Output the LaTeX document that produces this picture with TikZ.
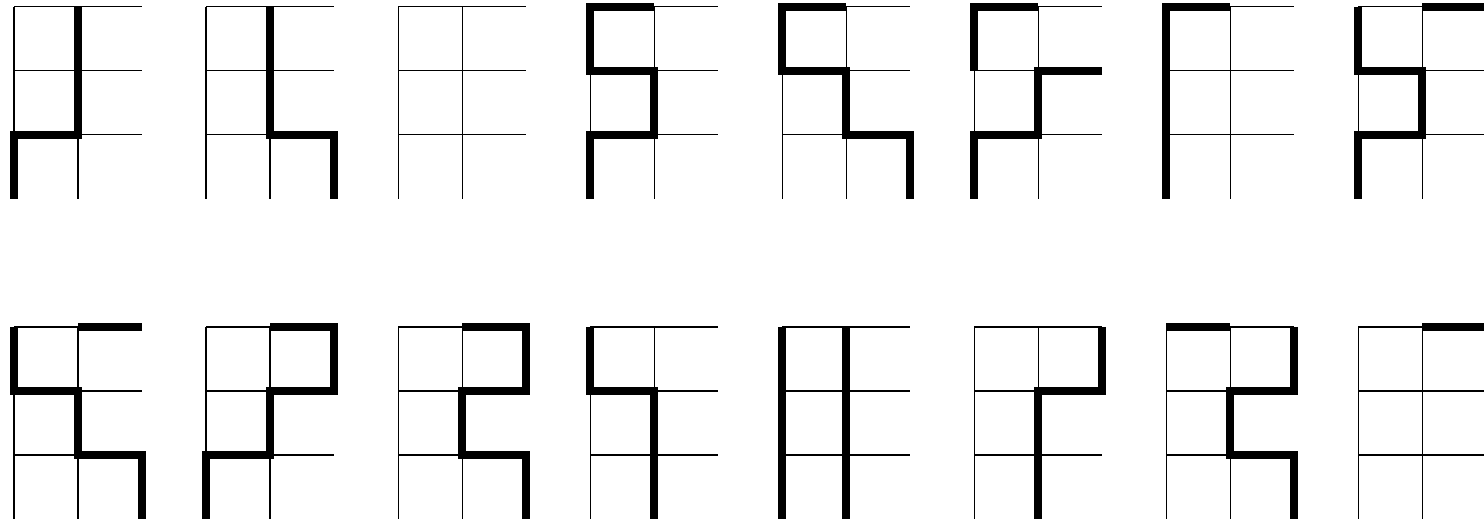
\documentclass[tikz,border=0pt]{standalone}
\newcommand\gridpanel[3]{%
  \begin{scope}[shift={(#1,#2)}]
    \draw[gridline] (0,0)--(0,3) (1,0)--(1,3) (0,0)--(2,0) (0,1)--(2,1) (0,2)--(2,2);
    #3
  \end{scope}}
\begin{document}
\begin{tikzpicture}[x=1cm,y=-1cm,
  gridline/.style={line width=0.45pt,black},
  bar/.style={line width=3.55pt,black,line join=miter,line cap=butt}]
\useasboundingbox (0,0) rectangle (23.1875,8.171875);
\clip (0,0) rectangle (23.1875,8.171875);
% row 1
\gridpanel{0.21875}{0.109375}{\draw[bar] (1,0)--(1,2)--(0,2)--(0,3);}
\gridpanel{3.21875}{0.109375}{\draw[bar] (1,0)--(1,2)--(2,2)--(2,3);}
\gridpanel{6.21875}{0.109375}{}
\gridpanel{9.21875}{0.109375}{\draw[bar] (1,0)--(0,0)--(0,1)--(1,1)--(1,2)--(0,2)--(0,3);}
\gridpanel{12.21875}{0.109375}{\draw[bar] (1,0)--(0,0)--(0,1)--(1,1)--(1,2)--(2,2)--(2,3);}
\gridpanel{15.21875}{0.109375}{\draw[bar] (1,0)--(0,0)--(0,1); \draw[bar] (2,1)--(1,1)--(1,2)--(0,2)--(0,3);}
\gridpanel{18.21875}{0.109375}{\draw[bar] (1,0)--(0,0)--(0,3);}
\gridpanel{21.21875}{0.109375}{\draw[bar] (1,0)--(2,0); \draw[bar] (0,0)--(0,1)--(1,1)--(1,2)--(0,2)--(0,3);}
% row 2
\gridpanel{0.21875}{5.109375}{\draw[bar] (1,0)--(2,0); \draw[bar] (0,0)--(0,1)--(1,1)--(1,2)--(2,2)--(2,3);}
\gridpanel{3.21875}{5.109375}{\draw[bar] (1,0)--(2,0)--(2,1)--(1,1)--(1,2)--(0,2)--(0,3);}
\gridpanel{6.21875}{5.109375}{\draw[bar] (1,0)--(2,0)--(2,1)--(1,1)--(1,2)--(2,2)--(2,3);}
\gridpanel{9.21875}{5.109375}{\draw[bar] (0,0)--(0,1)--(1,1)--(1,3);}
\gridpanel{12.21875}{5.109375}{\draw[bar] (0,0)--(0,3); \draw[bar] (1,0)--(1,3);}
\gridpanel{15.21875}{5.109375}{\draw[bar] (2,0)--(2,1)--(1,1)--(1,3);}
\gridpanel{18.21875}{5.109375}{\draw[bar] (0,0)--(1,0); \draw[bar] (2,0)--(2,1)--(1,1)--(1,2)--(2,2)--(2,3);}
\gridpanel{21.21875}{5.109375}{\draw[bar] (1,0)--(2,0);}
\end{tikzpicture}
\end{document}
